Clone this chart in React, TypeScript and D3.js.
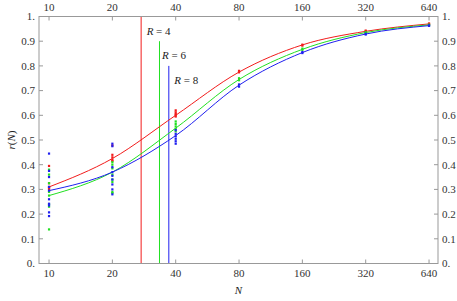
import React from "react";
import * as d3 from "d3";

const nValues = [10, 20, 40, 80, 160, 320, 640];
const xTicks = [10, 20, 40, 80, 160, 320, 640];
const yTicks = [0, 0.1, 0.2, 0.3, 0.4, 0.5, 0.6, 0.7, 0.8, 0.9, 1];
const yTickLabels = ["0.", "0.1", "0.2", "0.3", "0.4", "0.5", "0.6", "0.7", "0.8", "0.9", "1."];

const redCurve = [0.31, 0.425, 0.6, 0.775, 0.885, 0.94, 0.97];
const greenCurve = [0.275, 0.37, 0.548, 0.745, 0.867, 0.935, 0.966];
const blueCurve = [0.295, 0.37, 0.518, 0.722, 0.854, 0.929, 0.963];

const redSamples: [number, number][] = [
  [10, 0.395], [10, 0.325], [10, 0.31], [10, 0.305], [10, 0.3],
  [20, 0.478], [20, 0.44], [20, 0.43], [20, 0.42], [20, 0.415],
  [40, 0.62], [40, 0.612], [40, 0.605], [40, 0.6], [40, 0.595],
  [80, 0.78], [80, 0.774],
  [160, 0.886], [160, 0.882],
  [320, 0.943], [320, 0.94],
  [640, 0.972], [640, 0.969],
];
const greenSamples: [number, number][] = [
  [10, 0.38], [10, 0.36], [10, 0.325], [10, 0.29], [10, 0.275], [10, 0.24], [10, 0.23], [10, 0.138],
  [20, 0.41], [20, 0.4], [20, 0.385], [20, 0.36], [20, 0.34], [20, 0.33], [20, 0.29], [20, 0.285],
  [40, 0.575], [40, 0.565], [40, 0.555], [40, 0.545], [40, 0.535],
  [80, 0.75], [80, 0.742],
  [160, 0.87], [160, 0.865],
  [320, 0.937], [320, 0.934],
  [640, 0.967], [640, 0.965],
];
const blueSamples: [number, number][] = [
  [10, 0.445], [10, 0.375], [10, 0.35], [10, 0.31], [10, 0.295], [10, 0.26], [10, 0.242], [10, 0.235], [10, 0.207], [10, 0.192],
  [20, 0.485], [20, 0.475], [20, 0.39], [20, 0.37], [20, 0.355], [20, 0.34], [20, 0.32], [20, 0.3], [20, 0.28],
  [40, 0.54], [40, 0.525], [40, 0.515], [40, 0.505], [40, 0.495], [40, 0.485],
  [80, 0.725], [80, 0.716],
  [160, 0.856], [160, 0.852],
  [320, 0.93], [320, 0.927],
  [640, 0.964], [640, 0.962],
];

const thresholdR = [4, 6, 8];
const thresholdN = [27.4, 33.5, 37.1];
const thresholdTop = [1.0, 0.9, 0.8];
const labelY = [0.924, 0.827, 0.726];

const RED = "#f21c1c";
const GREEN = "#22e022";
const BLUE = "#1f1fef";
const colors = [RED, GREEN, BLUE];
const curves = [redCurve, greenCurve, blueCurve];
const samples = [redSamples, greenSamples, blueSamples];
const labelDx = [5.5, 2.5, 5.5];

export default function App() {
  const left = 39, right = 438, top = 16.5, bottom = 263.5;
  const x = d3.scaleLog().base(2).domain([8.96, 706]).range([left, right]);
  const y = d3.scaleLinear().domain([0, 1]).range([bottom, top]);
  const line = d3
    .line<number>()
    .x((_, i) => x(nValues[i]))
    .y((d) => y(d))
    .curve(d3.curveMonotoneX);
  const axisColor = "#999";
  const textColor = "#333";
  const font = "'Liberation Serif', 'Times New Roman', 'DejaVu Serif', serif";
  const tl = 4;

  return (
    <svg width={457} height={301} style={{ position: "absolute", left: 0, top: 0, fontFamily: font }}>
      <rect x={0} y={0} width={457} height={301} fill="white" />
      {thresholdN.map((n, i) => (
        <line key={"v" + i} x1={x(n)} x2={x(n)} y1={y(0)} y2={y(thresholdTop[i])} stroke={colors[i]} strokeWidth={1} />
      ))}
      {thresholdR.map((r, i) => (
        <text key={"l" + i} x={x(thresholdN[i]) + labelDx[i]} y={y(labelY[i])} fontSize={11} fill="#222" style={{ fontFamily: font }}>
          <tspan fontStyle="italic">R</tspan>
          <tspan>{" = " + r}</tspan>
        </text>
      ))}
      {curves.map((c, i) => (
        <path key={"c" + i} d={line(c) || ""} fill="none" stroke={colors[i]} strokeWidth={1} />
      ))}
      {samples.map((s, i) =>
        s.map((p, j) => (
          <rect key={"p" + i + "-" + j} x={x(p[0]) - 1.1} y={y(p[1]) - 1.1} width={2.2} height={2.2} fill={colors[i]} />
        ))
      )}
      <rect x={left} y={top} width={right - left} height={bottom - top} fill="none" stroke={axisColor} strokeWidth={1} />
      {xTicks.map((t) => (
        <g key={"xt" + t}>
          <line x1={x(t)} x2={x(t)} y1={bottom} y2={bottom - tl} stroke={axisColor} />
          <line x1={x(t)} x2={x(t)} y1={top} y2={top + tl} stroke={axisColor} />
          <text x={x(t)} y={bottom + 13.5} fontSize={11} textAnchor="middle" fill={textColor} style={{ fontFamily: font }}>{t}</text>
          <text x={x(t)} y={top - 5.5} fontSize={11} textAnchor="middle" fill={textColor} style={{ fontFamily: font }}>{t}</text>
        </g>
      ))}
      {yTicks.map((t, i) => (
        <g key={"yt" + i}>
          <line x1={left} x2={left + tl} y1={y(t)} y2={y(t)} stroke={axisColor} />
          <line x1={right} x2={right - tl} y1={y(t)} y2={y(t)} stroke={axisColor} />
          <text x={left - 4} y={y(t) + 3.8} fontSize={11} textAnchor="end" fill={textColor} style={{ fontFamily: font }}>{yTickLabels[i]}</text>
          <text x={right + 4} y={y(t) + 3.8} fontSize={11} textAnchor="start" fill={textColor} style={{ fontFamily: font }}>{yTickLabels[i]}</text>
        </g>
      ))}
      <text x={(left + right) / 2} y={294} fontSize={11} textAnchor="middle" fontStyle="italic" fill="#222" style={{ fontFamily: font }}>N</text>
      <text transform={`translate(15, ${(top + bottom) / 2}) rotate(-90)`} fontSize={11} textAnchor="middle" fill="#222" style={{ fontFamily: font }}>
        <tspan fontStyle="italic">r</tspan>
        <tspan>(</tspan>
        <tspan fontStyle="italic">N</tspan>
        <tspan>)</tspan>
      </text>
    </svg>
  );
}
